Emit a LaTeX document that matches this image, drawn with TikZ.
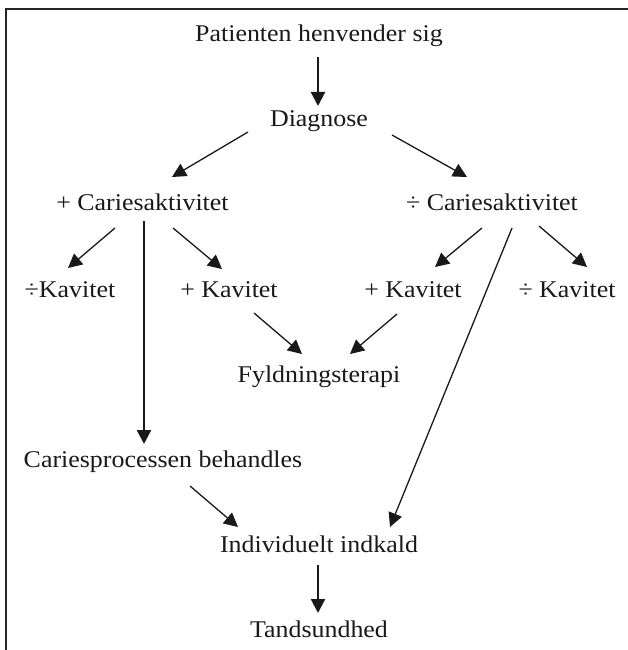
\documentclass[tikz,border=0pt]{standalone}
\usepackage{fontspec}
\setmainfont[FakeStretch=1.08]{Liberation Serif}
\usetikzlibrary{arrows.meta}
\begin{document}
\begin{tikzpicture}[x=1pt,y=-1pt,
  lbl/.style={inner sep=0pt, anchor=base, font=\fontsize{24}{28}\selectfont, text=black!90},
  arr/.style={draw=black!90, line width=1.3pt, -{Triangle[length=14pt,width=14pt]}},
  thick arr/.style={arr, line width=2.2pt},
  frameline/.style={draw=black!85, line width=2pt}]
\useasboundingbox (0,0) rectangle (627,650);
\draw[frameline] (6,651) -- (6,9) -- (628,9);

\node[lbl] (pat) at (319,42) {Patienten henvender sig};
\node[lbl] (diag) at (319,127) {Diagnose};
\node[lbl] (pc) at (142.5,210) {+ Cariesaktivitet};
\node[lbl] (mc) at (492,210) {÷ Cariesaktivitet};
\node[lbl] (mk1) at (70,297) {÷Kavitet};
\node[lbl] (pk1) at (229,297) {+ Kavitet};
\node[lbl] (pk2) at (413,297) {+ Kavitet};
\node[lbl] (mk2) at (567,297) {÷ Kavitet};
\node[lbl] (fyld) at (319,382) {Fyldningsterapi};
\node[lbl] (cpb) at (163,467) {Cariesprocessen behandles};
\node[lbl] (ind) at (319,552) {Individuelt indkald};
\node[lbl] (tand) at (319,637) {Tandsundhed};

\coordinate (a1s) at (318,57);  \coordinate (a1e) at (318,106);
\coordinate (a2s) at (248,132); \coordinate (a2e) at (172,177);
\coordinate (a3s) at (392,135); \coordinate (a3e) at (467,177);
\coordinate (a4s) at (115,228); \coordinate (a4e) at (68,268);
\coordinate (a5s) at (173,228); \coordinate (a5e) at (222,269);
\coordinate (a6s) at (144,221); \coordinate (a6e) at (144,444);
\coordinate (a7s) at (482,228); \coordinate (a7e) at (435,267);
\coordinate (a8s) at (539,226); \coordinate (a8e) at (587,267);
\coordinate (a9s) at (512,228); \coordinate (a9e) at (390,527);
\coordinate (b1s) at (254,313); \coordinate (b1e) at (302,354);
\coordinate (b2s) at (397,314); \coordinate (b2e) at (350,354);
\coordinate (c1s) at (190,486); \coordinate (c1e) at (238,527);
\coordinate (c2s) at (318,565); \coordinate (c2e) at (318,613);

\draw[thick arr] (a1s) -- (a1e);
\draw[arr] (a2s) -- (a2e);
\draw[arr] (a3s) -- (a3e);
\draw[arr] (a4s) -- (a4e);
\draw[arr] (a5s) -- (a5e);
\draw[thick arr] (a6s) -- (a6e);
\draw[arr] (a7s) -- (a7e);
\draw[arr] (a8s) -- (a8e);
\draw[arr] (a9s) -- (a9e);
\draw[arr] (b1s) -- (b1e);
\draw[arr] (b2s) -- (b2e);
\draw[arr] (c1s) -- (c1e);
\draw[thick arr] (c2s) -- (c2e);
\end{tikzpicture}
\end{document}
